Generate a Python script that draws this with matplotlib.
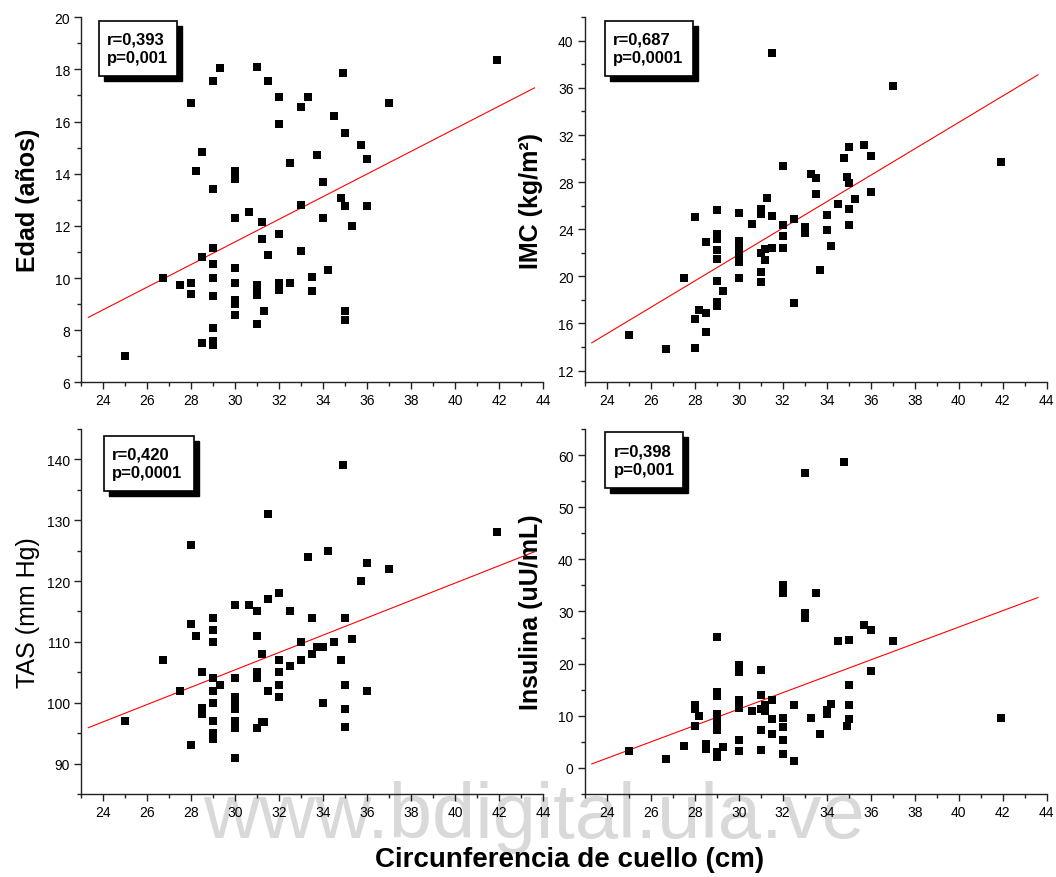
import numpy as np
import matplotlib
matplotlib.use("Agg")
import matplotlib.pyplot as plt
from matplotlib.patches import Rectangle
from matplotlib.ticker import MultipleLocator

plt.rcParams['font.family'] = ['Liberation Sans', 'DejaVu Sans']

# ---------------- data ----------------
x_edad = [25, 26.7, 27.5, 28, 28, 28, 28.2, 28.5, 28.5, 28.5, 29, 29.3, 29, 29, 29, 29, 29, 29, 29, 29,
          30, 30, 30, 30, 30, 30, 30, 30, 30.6, 31, 31, 31, 31, 31, 31.2, 31.2, 31.3, 31.5, 31.5,
          32, 32, 32, 32, 32, 32, 32.5, 32.5, 33, 33, 33, 33.3, 33.5, 33.5, 33.7, 34, 34, 34.2,
          34.5, 34.8, 34.9, 35, 35, 35, 35, 35.3, 35.7, 36, 36, 37, 41.9]
y_edad = [7.0, 10.0, 9.75, 9.8, 9.4, 16.7, 14.1, 14.85, 10.8, 7.5, 17.55, 18.05, 13.4, 11.15, 10.55, 10.0, 9.3, 8.1, 7.6, 7.45,
          14.1, 13.8, 12.3, 10.4, 9.8, 9.15, 9.0, 8.6, 12.55, 18.1, 9.75, 9.55, 9.35, 8.25, 12.15, 11.5, 8.75, 17.55, 10.9,
          16.95, 15.9, 11.7, 9.8, 9.65, 9.55, 14.4, 9.8, 16.55, 12.8, 11.05, 16.95, 10.05, 9.5, 14.7, 13.7, 12.3, 10.3,
          16.2, 13.05, 17.85, 15.55, 12.75, 8.75, 8.4, 12.0, 15.1, 14.55, 12.75, 16.7, 18.35]

x_imc = [25, 26.7, 27.5, 28, 28, 28, 28.2, 28.5, 28.5, 28.5, 29, 29, 29, 29, 29, 29, 29, 29, 29.3,
         30, 30, 30, 30, 30, 30, 30, 30.6, 31, 31, 31, 31, 31, 31.2, 31.2, 31.3, 31.5, 31.5, 31.5,
         32, 32, 32, 32, 32.5, 32.5, 33, 33, 33.3, 33.5, 33.5, 33.7, 34, 34, 34.2, 34.5, 34.8, 34.9,
         35, 35, 35, 35, 35.3, 35.7, 36, 36, 37, 41.9]
y_imc = [15.05, 13.8, 19.85, 25.0, 16.4, 13.9, 17.15, 16.85, 15.3, 22.9, 25.65, 23.6, 23.15, 22.2, 21.45, 19.6, 17.8, 17.45, 18.75,
         25.4, 23.0, 22.6, 22.15, 21.7, 21.2, 19.9, 24.45, 25.7, 25.3, 22.0, 20.4, 19.55, 21.4, 22.35, 26.65, 39.0, 25.1, 22.4,
         29.35, 24.4, 23.45, 22.4, 24.9, 17.7, 24.15, 23.7, 28.7, 28.35, 26.95, 20.5, 25.2, 23.9, 22.55, 26.15, 30.05, 28.4,
         31.0, 27.9, 25.75, 24.35, 26.55, 31.15, 30.25, 27.2, 36.15, 29.75]

x_tas = [25, 26.7, 27.5, 28, 28, 28, 28.2, 28.5, 28.5, 28.5, 29, 29, 29, 29, 29, 29, 29, 29, 29, 29.3,
         30, 30, 30, 30, 30, 30, 30, 30, 30.6, 31, 31, 31, 31, 31, 31.2, 31.2, 31.3, 31.5, 31.5, 31.5,
         32, 32, 32, 32, 32, 32.5, 32.5, 33, 33, 33.3, 33.5, 33.5, 33.7, 34, 34, 34.2, 34.5, 34.8, 34.9,
         35, 35, 35, 35, 35.3, 35.7, 36, 36, 37, 41.9]
y_tas = [97, 107, 102, 126, 113, 93, 111, 105, 99.2, 98.1, 114, 112, 110, 104.1, 101.9, 100, 97, 95.1, 94, 103,
         116, 104.1, 101, 100, 99, 97, 95.9, 91, 116, 115, 111, 105, 104.1, 95.9, 108, 96.8, 96.9, 131, 117, 102,
         118, 107, 105, 103, 101, 115, 106, 110, 107, 124, 114, 108, 109.1, 109.1, 100, 125, 110, 107, 139,
         114, 103, 99, 96, 110.4, 120, 123, 102, 122, 128]

x_ins = [25, 26.7, 27.5, 28, 28, 28.2, 28, 28.5, 28.5, 29, 29, 29, 29, 29, 29, 29, 29, 29, 29.3,
         30, 30, 30, 30, 30, 30, 30, 30.6, 31, 31, 31, 31, 31, 31.2, 31.2, 31.5, 31.5, 31.5,
         32, 32, 32, 32, 32, 32, 32.5, 32.5, 33, 33, 33, 33.3, 33.5, 33.7, 34, 34, 34.2, 34.5, 34.8, 34.9,
         35, 35, 35, 35, 35.7, 36, 36, 37, 41.9]
y_ins = [3.2, 1.8, 4.15, 12.15, 11.3, 10.05, 8.1, 4.5, 3.7, 25.1, 14.5, 13.75, 10.25, 9.3, 8.3, 7.35, 3.0, 2.05, 3.95,
         19.65, 18.4, 13.1, 12.15, 11.4, 5.45, 3.2, 11.0, 18.85, 13.9, 11.3, 7.2, 3.5, 12.0, 10.9, 13.0, 9.3, 6.5,
         35.1, 33.45, 9.6, 7.85, 5.45, 2.75, 12.15, 1.4, 56.55, 29.8, 28.8, 9.65, 33.5, 6.5, 11.2, 10.25, 12.35, 24.4, 58.7, 8.0,
         24.5, 15.85, 12.15, 9.3, 27.5, 26.5, 18.55, 24.35, 9.65]

# regression lines: intercept, slope
fit_edad = (-1.63, 0.434)
fit_imc = (-11.81, 1.122)
fit_tas = (62.66, 1.4256)
fit_ins = (-35.91, 1.573)
line_x = [23.32, 43.6]

stats = ["r=0,393\np=0,001", "r=0,687\np=0,0001", "r=0,420\np=0,0001", "r=0,398\np=0,001"]
ylabels = ["Edad (años)", "IMC (kg/m²)", "TAS (mm Hg)", "Insulina (uU/mL)"]
x_ticks = [24, 26, 28, 30, 32, 34, 36, 38, 40, 42, 44]
ylims = [(6, 20), (11, 42), (85, 145), (-5, 65)]
y_major = [2, 4, 10, 10]
y_minor = [1, 2, 5, 5]

# ---------------- figure ----------------
fig = plt.figure(figsize=(10.56, 8.78), dpi=100)

rects = [[0.077, 0.5634, 0.4375, 0.4158],
         [0.5537, 0.5634, 0.4375, 0.4158],
         [0.077, 0.0945, 0.4375, 0.4158],
         [0.5537, 0.0945, 0.4375, 0.4158]]
boxes = [(0.038, 0.84, 0.2065, 0.991),
         (0.044, 0.84, 0.235, 0.991),
         (0.049, 0.8306, 0.243, 0.9816),
         (0.045, 0.838, 0.213, 0.991)]
label_bold = [True, True, False, True]

datasets = [(x_edad, y_edad, fit_edad), (x_imc, y_imc, fit_imc),
            (x_tas, y_tas, fit_tas), (x_ins, y_ins, fit_ins)]

# watermark (behind axes)
fig.text(0.506, 0.0456, "www.bdigital.ula.ve", fontsize=56, color="#d9d9d9",
         ha="center", va="baseline", zorder=-5)

for i, (xs, ys, fit) in enumerate(datasets):
    ax = fig.add_axes(rects[i])
    ax.set_facecolor("none")
    ax.plot(xs, ys, linestyle="none", marker="s", ms=5.2, color="black", mew=0, zorder=3)
    lx = np.array(line_x)
    ax.plot(lx, fit[0] + fit[1] * lx, color="red", lw=0.8, zorder=2)
    ax.set_xlim(23, 44)
    ax.set_ylim(*ylims[i])
    ax.set_xticks(x_ticks)
    ax.xaxis.set_minor_locator(MultipleLocator(1))
    ax.yaxis.set_major_locator(MultipleLocator(y_major[i]))
    ax.yaxis.set_minor_locator(MultipleLocator(y_minor[i]))
    for s in ("top", "right"):
        ax.spines[s].set_visible(False)
    for s in ("left", "bottom"):
        ax.spines[s].set_linewidth(1.0)
        ax.spines[s].set_color("#222222")
    ax.tick_params(which="major", direction="out", length=5, width=1, labelsize=10,
                   color="#222222", pad=3)
    ax.tick_params(which="minor", direction="out", length=3, width=1, color="#222222")
    ax.set_ylabel(ylabels[i], fontsize=18, fontweight="bold" if label_bold[i] else "normal")
    ax.yaxis.set_label_coords(-0.09, 0.5)

    x0, y0, x1, y1 = boxes[i]
    dx, dy = 5 / 462, 5 / 365
    ax.add_patch(Rectangle((x0 + dx, y0 - dy), x1 - x0, y1 - y0, transform=ax.transAxes,
                           facecolor="black", edgecolor="black", lw=1, zorder=5, clip_on=False))
    ax.add_patch(Rectangle((x0, y0), x1 - x0, y1 - y0, transform=ax.transAxes,
                           facecolor="white", edgecolor="black", lw=1.2, zorder=6, clip_on=False))
    ax.text(x0 + 8 / 462, (y0 + y1) / 2, stats[i], transform=ax.transAxes, ha="left", va="center",
            fontsize=12, fontweight="bold", linespacing=1.35, zorder=7)

fig.text(0.539, 0.0205, "Circunferencia de cuello (cm)", fontsize=20, fontweight="bold",
         ha="center", va="center")

fig.savefig("out.png", dpi=100)
